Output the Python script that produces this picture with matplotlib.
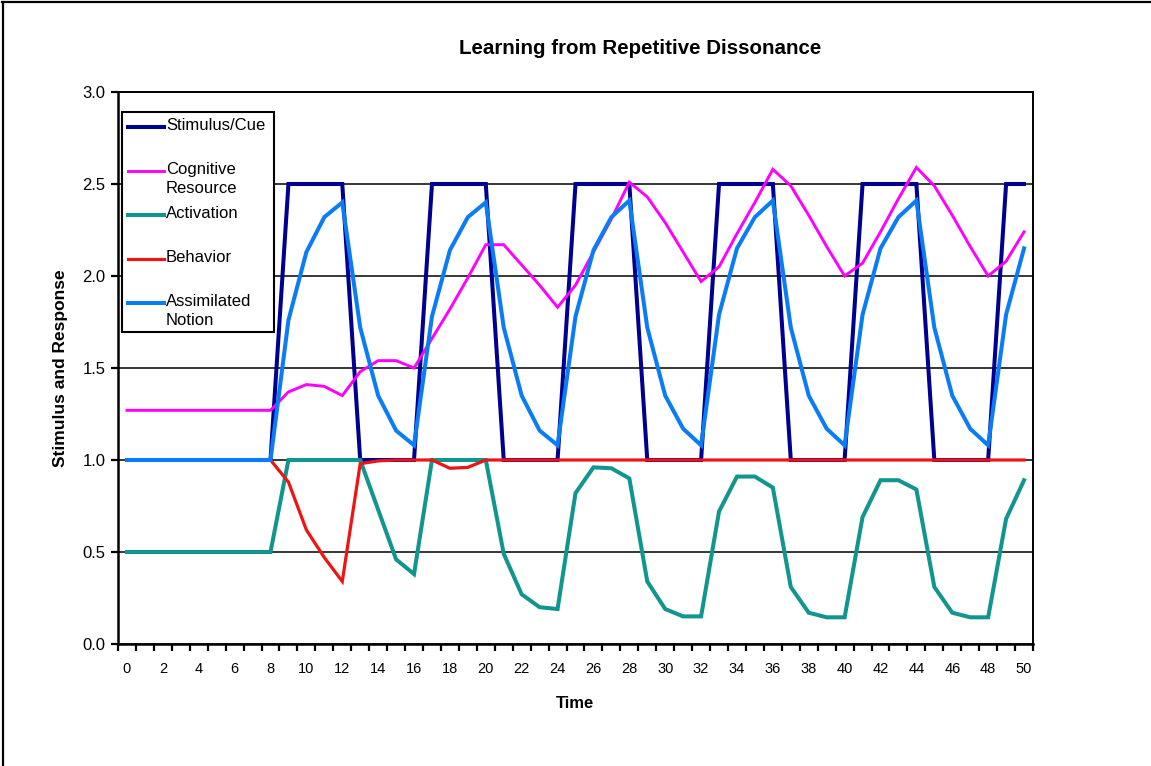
import matplotlib
matplotlib.use("Agg")
import matplotlib.pyplot as plt
from matplotlib.lines import Line2D
from matplotlib.patches import Rectangle
from matplotlib.ticker import FormatStrFormatter, MultipleLocator

plt.rcParams['font.family'] = ['Liberation Sans', 'DejaVu Sans']

time = list(range(51))

stimulus = [1.0] * 9 + [2.5, 2.5, 2.5, 2.5, 1.0, 1.0, 1.0, 1.0,
                        2.5, 2.5, 2.5, 2.5, 1.0, 1.0, 1.0, 1.0,
                        2.5, 2.5, 2.5, 2.5, 1.0, 1.0, 1.0, 1.0,
                        2.5, 2.5, 2.5, 2.5, 1.0, 1.0, 1.0, 1.0,
                        2.5, 2.5, 2.5, 2.5, 1.0, 1.0, 1.0, 1.0,
                        2.5, 2.5]

cognitive = [1.27] * 9 + [1.37, 1.41, 1.40, 1.35, 1.48, 1.54, 1.54, 1.50,
                          1.66, 1.82, 1.99, 2.17, 2.17, 2.06, 1.95, 1.83,
                          1.95, 2.13, 2.31, 2.51, 2.43, 2.29, 2.13, 1.97,
                          2.05, 2.23, 2.40, 2.58, 2.49, 2.33, 2.16, 2.00,
                          2.07, 2.24, 2.42, 2.59, 2.49, 2.33, 2.16, 2.00,
                          2.08, 2.24]

activation = [0.5] * 9 + [1.0, 1.0, 1.0, 1.0, 1.0, 0.73, 0.46, 0.38,
                          1.0, 1.0, 1.0, 1.0, 0.49, 0.27, 0.20, 0.19,
                          0.82, 0.96, 0.955, 0.90, 0.34, 0.19, 0.15, 0.15,
                          0.72, 0.91, 0.91, 0.85, 0.31, 0.17, 0.145, 0.145,
                          0.69, 0.89, 0.89, 0.84, 0.31, 0.17, 0.145, 0.145,
                          0.68, 0.89]

behavior = [1.0] * 9 + [0.88, 0.62, 0.47, 0.34, 0.98, 0.995, 1.0, 1.0,
                        1.0, 0.955, 0.96, 1.0] + [1.0] * 30

assimilated = [1.0] * 9 + [1.76, 2.13, 2.32, 2.40, 1.72, 1.35, 1.16, 1.08,
                           1.78, 2.14, 2.32, 2.40, 1.72, 1.35, 1.16, 1.08,
                           1.78, 2.14, 2.32, 2.41, 1.72, 1.35, 1.17, 1.08,
                           1.79, 2.15, 2.32, 2.41, 1.72, 1.35, 1.17, 1.08,
                           1.79, 2.15, 2.32, 2.41, 1.72, 1.35, 1.17, 1.08,
                           1.79, 2.15]

series = [
    ("Stimulus/Cue", stimulus, "#000090", 2.9),
    ("Cognitive\nResource", cognitive, "#FF00FF", 2.1),
    ("Activation", activation, "#10968F", 2.9),
    ("Behavior", behavior, "#EE1414", 2.3),
    ("Assimilated\nNotion", assimilated, "#0A7CF5", 2.9),
]

W, H = 1151, 766
fig = plt.figure(figsize=(W / 100, H / 100), dpi=100)
ax = fig.add_axes([118 / W, 1 - 644 / H, (1033 - 118) / W, (644 - 92) / H])

for label, vals, color, lw in series:
    ax.plot(time, vals, color=color, lw=lw, solid_joinstyle='miter', zorder=3)

ax.set_xlim(-0.5, 50.5)
ax.set_ylim(0, 3)
ax.yaxis.set_major_locator(MultipleLocator(0.5))
ax.yaxis.set_major_formatter(FormatStrFormatter('%.1f'))
ax.set_xticks(range(0, 51, 2))
ax.set_xticks([i - 0.5 for i in range(52)], minor=True)
ax.tick_params(axis='x', which='major', length=0, pad=13, labelsize=10.5)
ax.tick_params(axis='x', which='minor', length=5, width=1.6, direction='out')
ax.tick_params(axis='y', which='major', length=5, width=1.6, pad=4, labelsize=12)
ax.grid(axis='y', color='black', lw=1.1, zorder=1)
ax.set_axisbelow(True)
for s in ax.spines.values():
    s.set_linewidth(1.4)
ax.spines['left'].set_linewidth(1.8)
ax.spines['bottom'].set_linewidth(1.8)

ax.set_xlabel("Time", fontsize=12, fontweight='bold', labelpad=14)
ax.set_ylabel("Stimulus and Response", fontsize=12.5, fontweight='bold', labelpad=10)
fig.text(640 / W, 1 - 48 / H, "Learning from Repetitive Dissonance",
         fontsize=14.8, fontweight='bold', ha='center', va='center')

# legend drawn as Excel lays it out: equal slots, text top aligned
def fx(px):
    return px / W

def fy(py):
    return 1 - py / H

fig.add_artist(Rectangle((fx(122), fy(332)), fx(274) - fx(122), fy(112) - fy(332),
                         transform=fig.transFigure, facecolor='white',
                         edgecolor='black', lw=1.5, zorder=5))
for i, (label, vals, color, lw) in enumerate(series):
    top = 112 + 44 * i
    fig.add_artist(Line2D([fx(128), fx(164)], [fy(top + 15), fy(top + 15)],
                          transform=fig.transFigure, color=color, lw=lw, zorder=6))
    fig.text(fx(166), fy(top + 6), label, fontsize=12, ha='left', va='top',
             linespacing=1.3, zorder=7)

# chart border (top and left edges only)
fig.add_artist(Line2D([fx(2), fx(1151)], [fy(2), fy(2)], transform=fig.transFigure,
                      color='black', lw=1.6))
fig.add_artist(Line2D([fx(3), fx(3)], [fy(2), fy(766)], transform=fig.transFigure,
                      color='black', lw=1.6))

fig.savefig("out.png", dpi=100)
